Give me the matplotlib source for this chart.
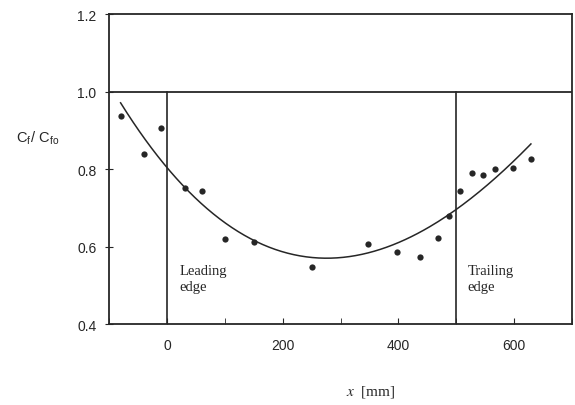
import numpy as np
import matplotlib
matplotlib.use("Agg")
from matplotlib import pyplot as plt
from matplotlib.ticker import MultipleLocator

plt.rcParams['mathtext.fontset'] = 'stix'

pts_x = [-80, -40, -10, 31, 61, 100, 150, 250, 347, 398, 437, 468, 488, 507, 527, 547, 567, 598, 629]
pts_y = [0.938, 0.838, 0.907, 0.752, 0.742, 0.619, 0.611, 0.546, 0.607, 0.587, 0.574,
         0.622, 0.679, 0.743, 0.789, 0.785, 0.800, 0.803, 0.827]

# points read along the fitted curve drawn in the scan
curve_x = [-80, -47, 0, 57, 115, 173, 230, 288, 346, 404, 461, 499, 548, 590, 629]
curve_y = [0.968, 0.895, 0.806, 0.723, 0.645, 0.598, 0.572, 0.565, 0.581, 0.619,
           0.662, 0.697, 0.748, 0.803, 0.867]

edge_x = [0, 500]
x_ticks = [0, 200, 400, 600]
y_ticks = [0.4, 0.6, 0.8, 1.0, 1.2]

ink = '#262626'

fig = plt.figure(figsize=(5.75, 4.06), dpi=100)
ax = fig.add_axes([0.1896, 0.1995, 0.8052, 0.7635])

# smooth trend line through the curve points (cubic fit, as in the source)
coef = np.polyfit(curve_x, curve_y, 3)
xs = np.linspace(curve_x[0], curve_x[-1], 200)
ax.plot(xs, np.polyval(coef, xs), color=ink, lw=1.1)
ax.plot(pts_x, pts_y, 'o', color=ink, ms=4.5, mec='none')

ax.axhline(1.0, color=ink, lw=1.3)
for xe in edge_x:
    ax.plot([xe, xe], [0.4, 1.0], color=ink, lw=1.2)

ax.set_xlim(-100, 700)
ax.set_ylim(0.4, 1.2)
ax.set_xticks(x_ticks)
ax.xaxis.set_minor_locator(MultipleLocator(100))
ax.set_yticks(y_ticks)
ax.set_yticklabels([f'{v:.1f}' for v in y_ticks])

for s in ax.spines.values():
    s.set_color(ink)
    s.set_linewidth(1.3)

ax.tick_params(axis='x', which='both', direction='in', length=4, pad=10,
               labelsize=10, colors=ink)
ax.tick_params(axis='y', direction='inout', length=6, pad=6, labelsize=10, colors=ink)
for lab in ax.get_xticklabels() + ax.get_yticklabels():
    lab.set_family('Liberation Sans')

ax.text(22, 0.555, 'Leading\nedge', family='Liberation Serif', fontsize=10.5,
        color=ink, va='top', ha='left', linespacing=1.3)
ax.text(520, 0.555, 'Trailing\nedge', family='Liberation Serif', fontsize=10.5,
        color=ink, va='top', ha='left', linespacing=1.3)

fig.text(0.065, 1 - 138 / 406, r'C$_\mathregular{f}$/ C$_\mathregular{fo}$',
         family='Liberation Sans', fontsize=10.5, color=ink, ha='center', va='center')
fig.text(0.645, 1 - 392 / 406, r'$x$  [mm]', family='Liberation Serif',
         fontsize=11, color=ink, ha='center', va='center')

fig.savefig('out.png', dpi=100, facecolor='white')
